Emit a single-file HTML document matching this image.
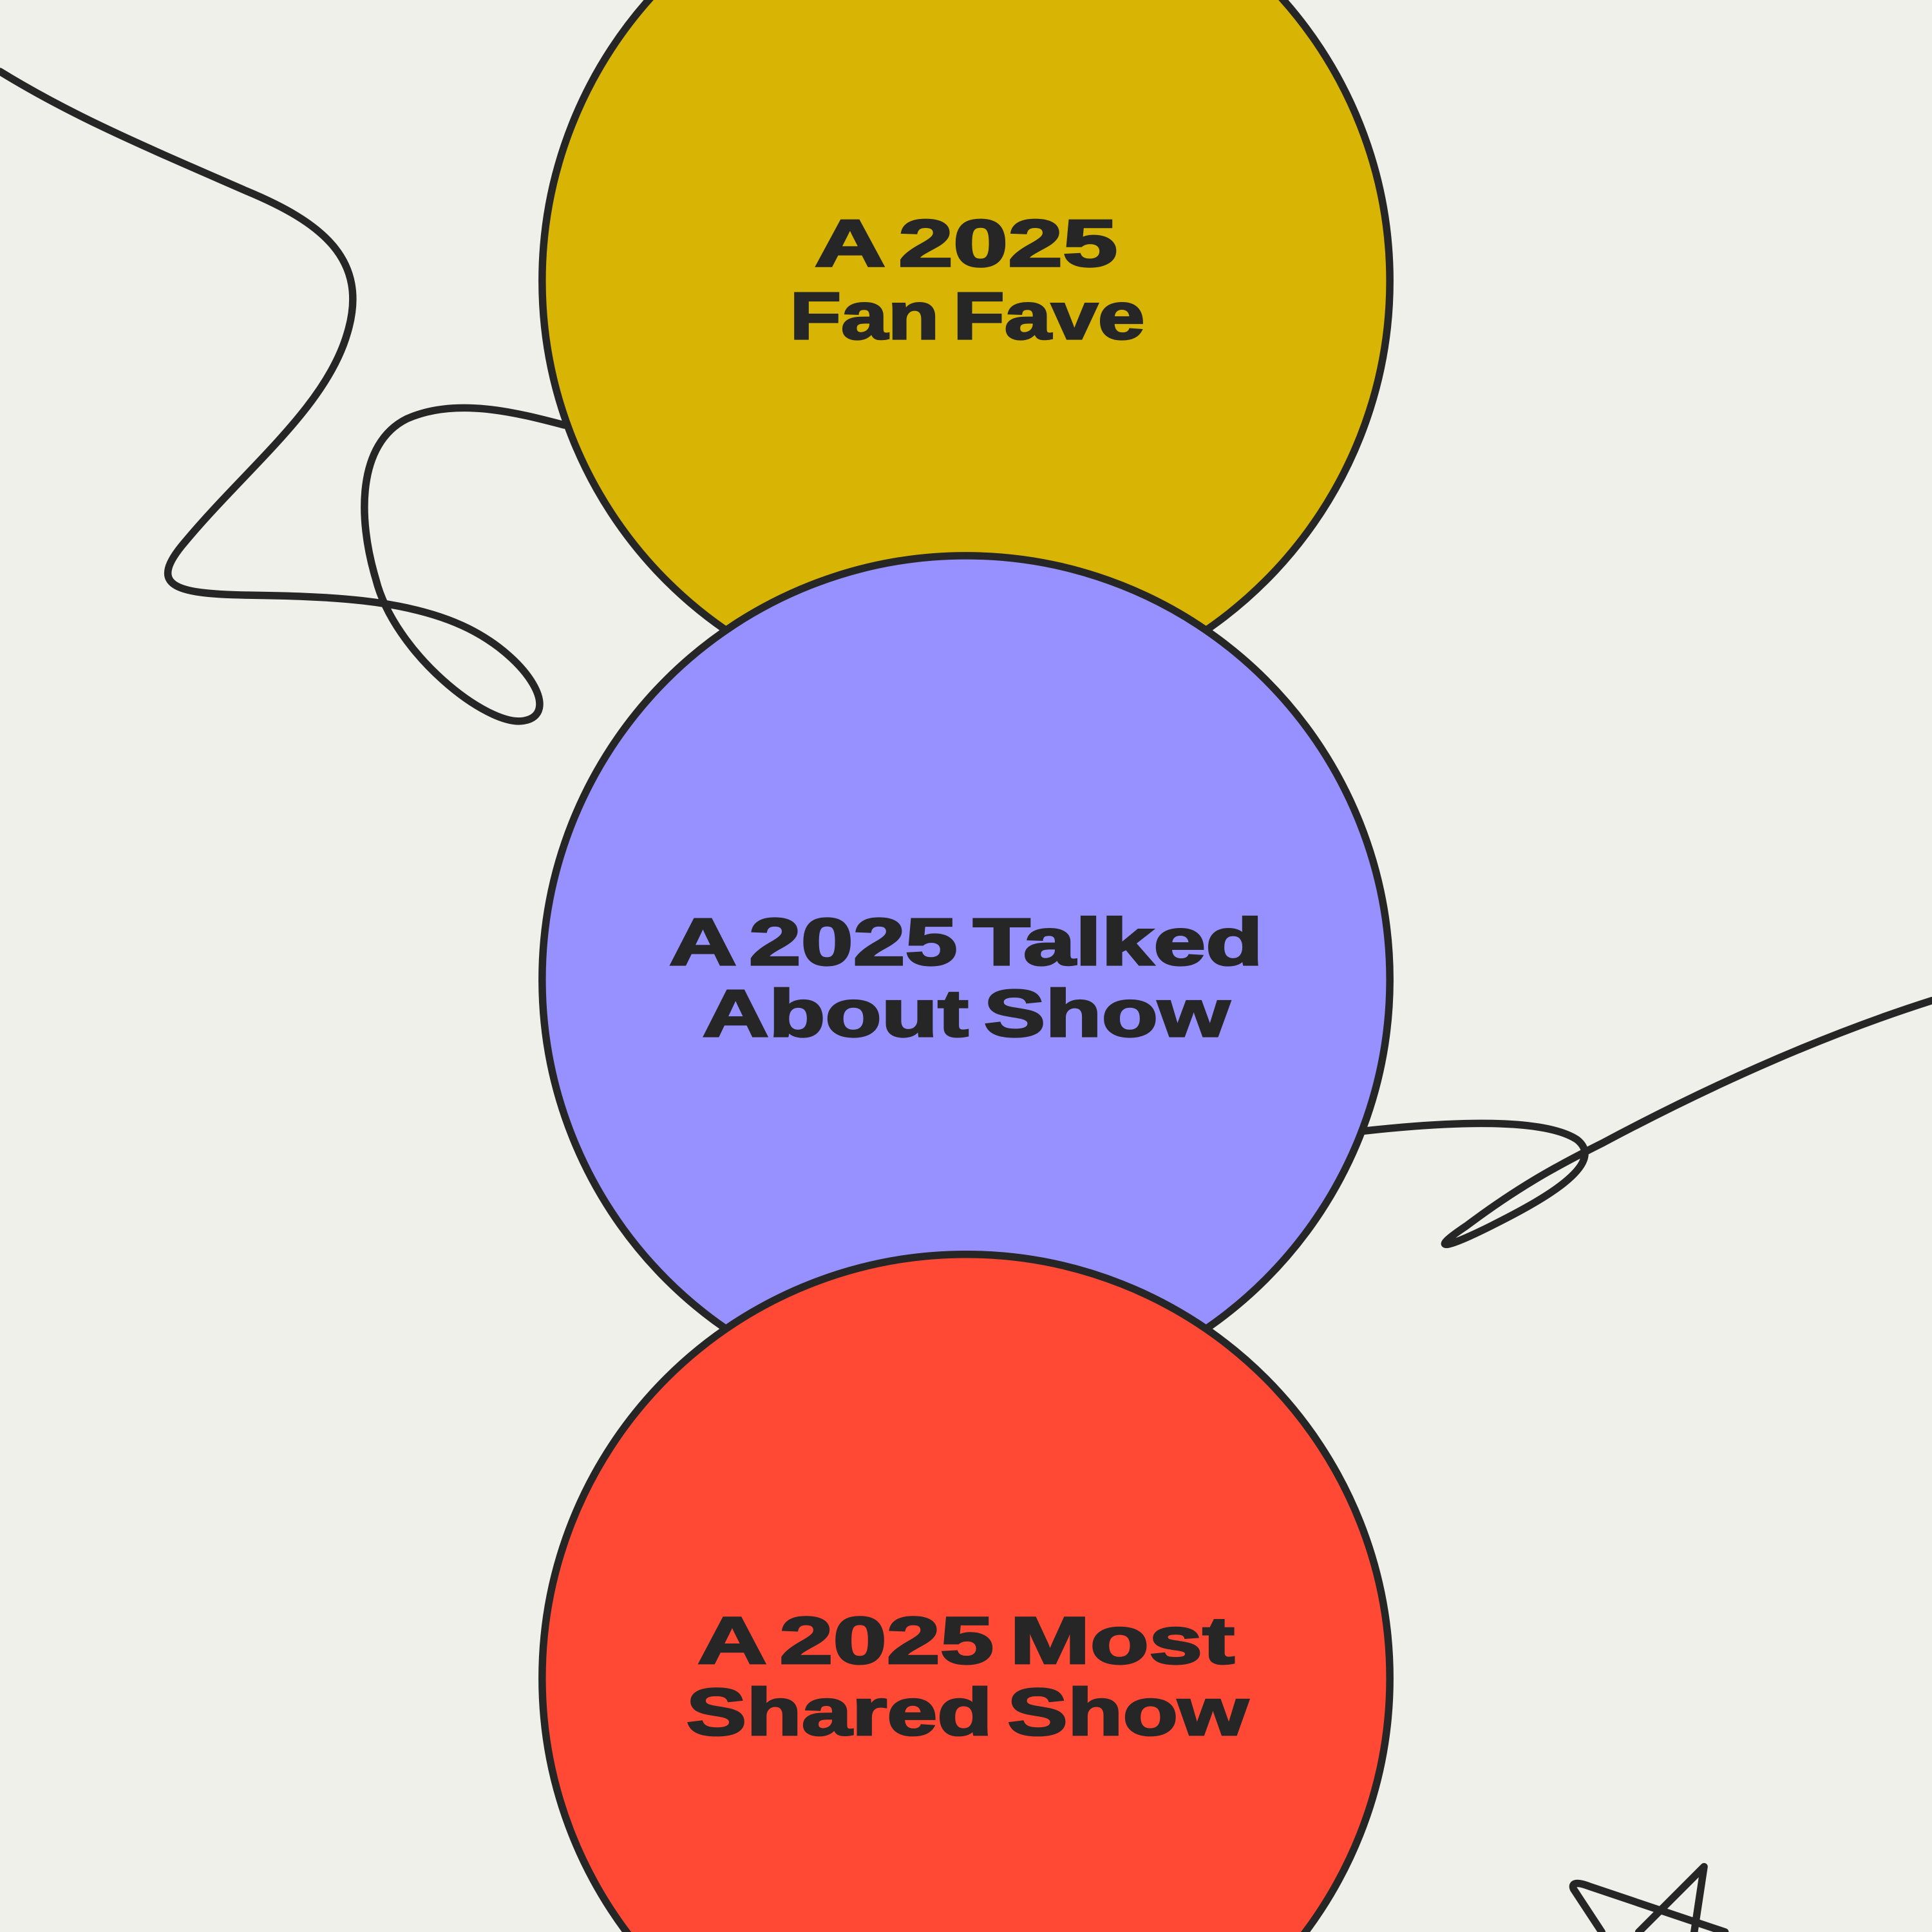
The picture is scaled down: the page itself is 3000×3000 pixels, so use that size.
<!DOCTYPE html>
<html><head><meta charset="utf-8"><style>
html,body{margin:0;padding:0;background:#f0f0eb;width:3000px;height:3000px;overflow:hidden;}
svg{display:block;}
text{font-family:"Liberation Sans",sans-serif;font-weight:bold;fill:#262626;stroke:#262626;stroke-width:1.6;word-spacing:-6px;}
</style></head><body>
<svg width="3000" height="3000" viewBox="0 0 1568 1568" xmlns="http://www.w3.org/2000/svg">
<rect width="1568" height="1568" fill="#f0f0eb"/>
<g fill="none" stroke="#262626" stroke-width="6" stroke-linecap="round" stroke-linejoin="round">
<path d="M0,58 C60,95 120,120 200,155 C260,180 300,210 282,270 C265,330 200,380 150,440 C120,475 140,482 200,483 C260,484 330,485 380,510 C430,535 455,580 425,585 C395,590 320,530 305,470 C290,420 290,360 330,340 C370,322 420,335 458,345"/>
<path d="M1106,918 C1160,912 1250,905 1280,925 C1305,945 1250,975 1210,995 C1170,1015 1160,1015 1190,995 C1230,965 1260,948 1300,928 C1390,880 1480,840 1568,812"/>
<path d="M1300,1568 L1277,1533 C1275,1528 1280,1527 1290,1531 L1400,1568 M1330,1568 L1383,1515 L1375,1568"/>
</g>
<g stroke="#262626" stroke-width="6">
<circle cx="784" cy="228" r="344" fill="#d8b505"/>
<circle cx="784" cy="795" r="344" fill="#9691ff"/>
<circle cx="784" cy="1362" r="344" fill="#ff4935"/>
</g>
<g font-size="54" text-anchor="middle">
<text x="784" y="216" textLength="246" lengthAdjust="spacingAndGlyphs">A 2025</text>
<text x="785" y="275" textLength="288" lengthAdjust="spacingAndGlyphs">Fan Fave</text>
<text x="784" y="783" textLength="482" lengthAdjust="spacingAndGlyphs">A 2025 Talked</text>
<text x="784" y="841" textLength="428" lengthAdjust="spacingAndGlyphs">About Show</text>
<text x="784" y="1350" textLength="436" lengthAdjust="spacingAndGlyphs">A 2025 Most</text>
<text x="785" y="1408" textLength="456" lengthAdjust="spacingAndGlyphs">Shared Show</text>
</g>
</svg>
</body></html>
